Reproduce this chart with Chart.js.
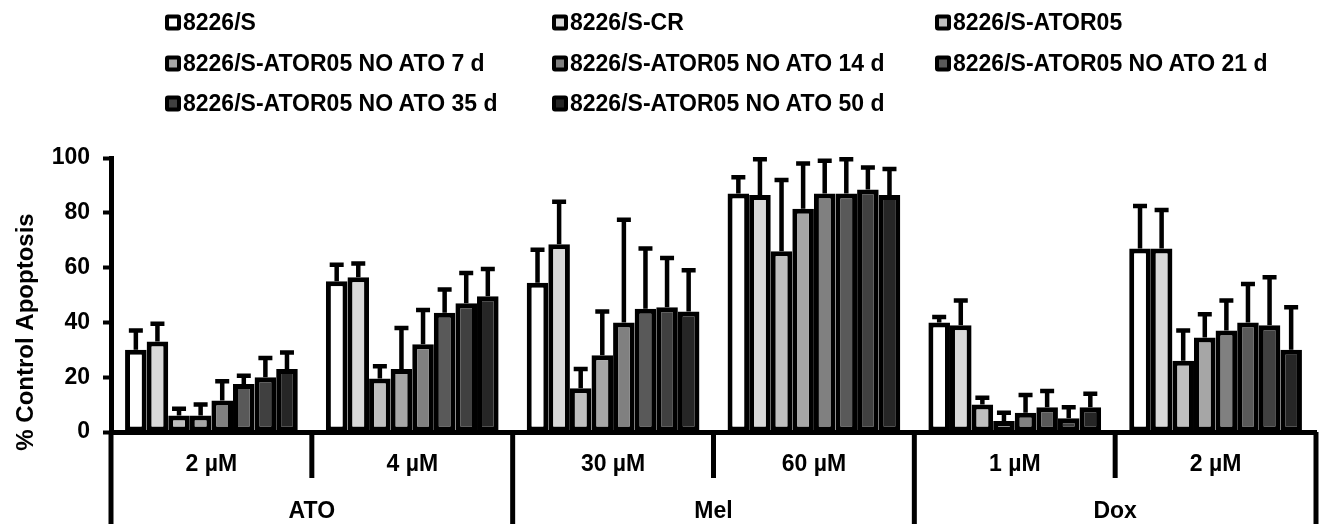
<!DOCTYPE html>
<html lang="en">
<head>
  <meta charset="UTF-8" />
  <title>% Control Apoptosis</title>
  <style>
    body {
      margin: 0;
      background: #fff;
      font-family: "Liberation Sans", Arial, sans-serif;
    }
    #wrap {
      position: relative;
      width: 1321px;
      height: 524px;
    }
    #legend .item {
      position: absolute;
      display: flex;
      align-items: center;
      font-weight: bold;
      font-size: 23px;
      color: #000;
      white-space: nowrap;
      transform: translateY(-50%);
    }
    #legend .box {
      width: 8px;
      height: 8px;
      border: 4.5px solid #000;
      border-radius: 3px;
      margin-right: 2px;
    }
  </style>
</head>
<body>
  <div id="wrap">
    <canvas id="chart" width="1321" height="524"></canvas>
    <div id="legend"></div>
  </div>

  <script src="https://cdn.jsdelivr.net/npm/chart.js"></script>
  <script>
    // categories
    const doses = ['2 µM', '4 µM', '30 µM', '60 µM', '1 µM', '2 µM'];
    const drugs = ['ATO', 'Mel', 'Dox'];   // each spans 2 doses

    const seriesNames = [
      '8226/S', '8226/S-CR', '8226/S-ATOR05',
      '8226/S-ATOR05 NO ATO 7 d', '8226/S-ATOR05 NO ATO 14 d', '8226/S-ATOR05 NO ATO 21 d',
      '8226/S-ATOR05 NO ATO 35 d', '8226/S-ATOR05 NO ATO 50 d'
    ];
    const seriesColors = ['#ffffff', '#d9d9d9', '#bfbfbf', '#a6a6a6', '#808080', '#595959', '#404040', '#262626'];

    // mean values, one array per cell line
    const s_8226S   = [30, 55, 54.5, 87, 40, 67];
    const s_CR      = [33, 56.5, 68.5, 86.5, 39, 67];
    const s_ATOR05  = [6, 19.5, 16, 66, 10, 26];
    const s_no7     = [6, 23, 28, 81.5, 4, 34.5];
    const s_no14    = [11.5, 32, 40, 87, 7, 37];
    const s_no21    = [17.5, 43.5, 45, 87, 9, 40];
    const s_no35    = [20, 47, 45.5, 88.5, 5, 39];
    const s_no50    = [23, 49.5, 44, 86.5, 9, 30];

    // upper error (SD)
    const e_8226S   = [7, 6, 12, 6, 2, 15.5];
    const e_CR      = [6.5, 5, 15.5, 13, 9, 14];
    const e_ATOR05  = [2.5, 4.5, 7, 26, 2.5, 11];
    const e_no7     = [4, 15, 16, 16.5, 3, 8.5];
    const e_no14    = [7, 12.5, 37.5, 12, 6.5, 11];
    const e_no21    = [3, 8.5, 22, 12.5, 6, 14];
    const e_no35    = [7, 11, 18, 8, 4, 17.5];
    const e_no50    = [6, 10, 15, 9.5, 5, 15.5];

    const yTicks = [0, 20, 40, 60, 80, 100];

    const values = [s_8226S, s_CR, s_ATOR05, s_no7, s_no14, s_no21, s_no35, s_no50];
    const errors = [e_8226S, e_CR, e_ATOR05, e_no7, e_no14, e_no21, e_no35, e_no50];

    const FONT = '"Liberation Sans", Arial, sans-serif';

    // legend, 3 columns
    const legendCols = [165, 552, 935];
    const legendRows = [22, 63, 103];
    const legendDiv = document.getElementById('legend');
    seriesNames.forEach((name, i) => {
      const item = document.createElement('div');
      item.className = 'item';
      item.style.left = legendCols[i % 3] + 'px';
      item.style.top = legendRows[Math.floor(i / 3)] + 'px';
      const box = document.createElement('span');
      box.className = 'box';
      box.style.background = seriesColors[i];
      item.appendChild(box);
      item.appendChild(document.createTextNode(name));
      legendDiv.appendChild(item);
    });

    const errorBars = {
      id: 'errorBars',
      afterDatasetsDraw(chart) {
        const ctx = chart.ctx;
        const y = chart.scales.y;
        ctx.save();
        ctx.strokeStyle = '#000';
        ctx.lineWidth = 4.5;
        chart.data.datasets.forEach((ds, di) => {
          chart.getDatasetMeta(di).data.forEach((bar, i) => {
            const top = y.getPixelForValue(ds.data[i] + errors[di][i]);
            ctx.beginPath();
            ctx.moveTo(bar.x, bar.y);
            ctx.lineTo(bar.x, top);
            ctx.moveTo(bar.x - 7, top);
            ctx.lineTo(bar.x + 7, top);
            ctx.stroke();
          });
        });
        ctx.restore();
      }
    };

    const axisExtras = {
      id: 'axisExtras',
      afterDraw(chart) {
        const ctx = chart.ctx;
        const x = chart.scales.x;
        const area = chart.chartArea;
        const step = (area.right - area.left) / doses.length;
        const base = area.bottom;
        ctx.save();
        ctx.strokeStyle = '#000';
        ctx.fillStyle = '#000';
        ctx.lineWidth = 5;
        // separators between doses
        for (let i = 0; i <= doses.length; i++) {
          const px = area.left + i * step;
          ctx.beginPath();
          ctx.moveTo(px, base);
          ctx.lineTo(px, i % 2 === 0 ? 524 : base + 46);
          ctx.stroke();
        }
        ctx.font = 'bold 23px ' + FONT;
        ctx.textAlign = 'center';
        ctx.textBaseline = 'middle';
        doses.forEach((d, i) => ctx.fillText(d, x.getPixelForValue(i), base + 33));
        drugs.forEach((d, g) => {
          const cx = (x.getPixelForValue(2 * g) + x.getPixelForValue(2 * g + 1)) / 2;
          ctx.fillText(d, cx, base + 80);
        });
        // y axis title
        ctx.translate(26, 332);
        ctx.rotate(-Math.PI / 2);
        ctx.font = 'bold 24px ' + FONT;
        ctx.fillText('% Control Apoptosis', 0, 0);
        ctx.restore();
      }
    };

    new Chart(document.getElementById('chart').getContext('2d'), {
      type: 'bar',
      data: {
        labels: doses,
        datasets: seriesNames.map((name, i) => ({
          label: name,
          data: values[i],
          backgroundColor: seriesColors[i],
          borderColor: '#000',
          borderWidth: 5,
          borderSkipped: false,
          categoryPercentage: 0.86,
          barPercentage: 1
        }))
      },
      options: {
        responsive: false,
        animation: false,
        devicePixelRatio: 1,
        layout: { padding: { top: 158, right: 5, bottom: 0, left: 0 } },
        plugins: { legend: { display: false }, tooltip: { enabled: false } },
        scales: {
          x: {
            ticks: { display: false },
            grid: { display: false },
            border: { color: '#000', width: 5 },
            afterFit: s => { s.height = 92; }
          },
          y: {
            min: 0,
            max: 100,
            afterBuildTicks: s => { s.ticks = yTicks.map(v => ({ value: v })); },
            ticks: {
              color: '#000',
              padding: 13,
              font: { family: FONT, size: 23, weight: 'bold' }
            },
            grid: { drawOnChartArea: false, color: '#000', tickLength: 8, tickWidth: 4 },
            border: { color: '#000', width: 5 },
            afterFit: s => { s.width = 111; }
          }
        }
      },
      plugins: [errorBars, axisExtras]
    });
  </script>
</body>
</html>
